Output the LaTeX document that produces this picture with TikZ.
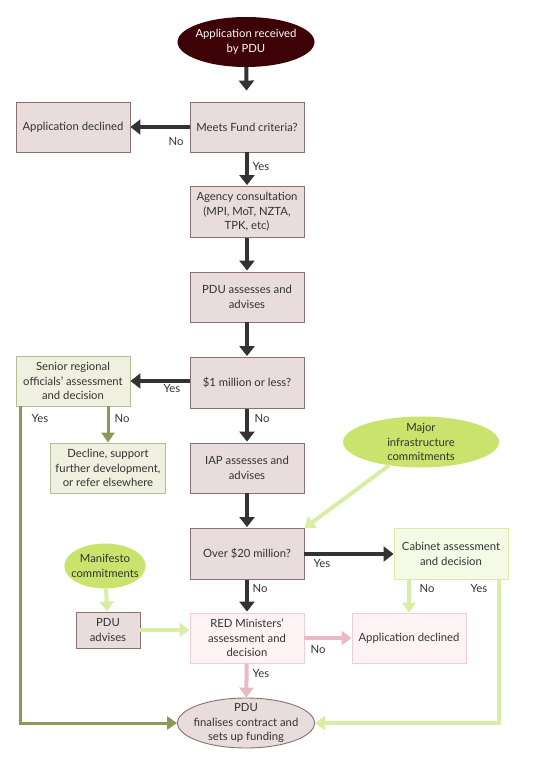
\documentclass[tikz,border=0pt]{standalone}
\usepackage{fontspec}
\setmainfont{Lato}
\usetikzlibrary{arrows.meta,shapes.geometric}
\definecolor{boxfill}{HTML}{E8DCDC}
\definecolor{boxline}{HTML}{8A7070}
\definecolor{startfill}{HTML}{3D0205}
\definecolor{olivefill}{HTML}{EFF0E0}
\definecolor{oliveline}{HTML}{B5BC9A}
\definecolor{olive}{HTML}{899A58}
\definecolor{limefill}{HTML}{C9E36C}
\definecolor{paleline}{HTML}{DAEDA6}
\definecolor{palefill}{HTML}{F5FAE6}
\definecolor{pinkfill}{HTML}{FDF2F4}
\definecolor{pinkline}{HTML}{F1CDD5}
\definecolor{pink}{HTML}{EBB9C4}
\definecolor{txt}{HTML}{333333}

\tikzset{
  base/.style={draw, minimum width=114pt, minimum height=50pt, align=center,
    inner sep=1pt, text=txt, font=\fontsize{11.3}{14.5}\selectfont},
  mainbox/.style={base, fill=boxfill, draw=boxline, line width=0.9pt},
  olivebox/.style={base, fill=olivefill, draw=oliveline, line width=0.9pt},
  palebox/.style={base, fill=palefill, draw=paleline, line width=0.9pt},
  pinkbox/.style={base, fill=pinkfill, draw=pinkline, line width=0.9pt},
  blob/.style={ellipse, inner sep=-5pt, align=center, text=txt,
    font=\fontsize{11.3}{14.5}\selectfont},
  lbl/.style={text=txt, font=\fontsize{11.3}{12}\selectfont, inner sep=0pt},
  darkarrow/.style={draw=txt, line width=4pt, -{Triangle[width=15pt,length=10pt]}},
  olivearrow/.style={draw=olive, line width=3pt, -{Triangle[width=13pt,length=10pt]}},
  palearrow/.style={draw=paleline, line width=4pt, -{Triangle[width=14pt,length=10pt]}},
  pinkarrow/.style={draw=pink, line width=4pt, -{Triangle[width=14pt,length=10pt]}},
}

\begin{document}
\begin{tikzpicture}[x=1pt,y=-1pt]
\useasboundingbox (0,0) rectangle (535,768);

% main column
\node[blob, fill=startfill, text=white, minimum width=137pt, minimum height=50pt] (start) at (246,42) {Application received\\by PDU};
\node[mainbox] (meets) at (247,127) {Meets Fund criteria?};
\node[mainbox] (declA) at (73,127) {Application declined};
\node[mainbox, minimum height=51pt] (agency) at (247,212) {Agency consultation\\(MPI, MoT, NZTA,\\TPK, etc)};
\node[mainbox] (pduassess) at (247,297) {PDU assesses and\\advises};
\node[mainbox, minimum height=51pt] (million) at (247,383) {\$1 million or less?};
\node[olivebox] (senior) at (73,381) {Senior regional\\officials’ assessment\\and decision};
\node[mainbox] (iap) at (247,468) {IAP assesses and\\advises};
\node[olivebox, minimum width=115pt] (decline) at (108,468) {Decline, support\\further development,\\or refer elsewhere};
\node[blob, fill=limefill, minimum width=156pt, minimum height=51pt] (major) at (421,442) {Major\\infrastructure\\commitments};
\node[mainbox, minimum height=51pt] (over) at (247,554) {Over \$20 million?};
\node[palebox, minimum height=51pt] (cabinet) at (451,554) {Cabinet assessment\\and decision};
\node[blob, fill=limefill, minimum width=81pt, minimum height=45pt] (manifesto) at (105,566) {Manifesto\\commitments};
\node[mainbox, minimum width=64pt, minimum height=36pt] (advises) at (108,630) {PDU\\advises};
\node[pinkbox] (red) at (247,638) {RED Ministers’\\assessment and\\decision};
\node[pinkbox] (declB) at (409,638) {Application declined};
\node[blob, fill=boxfill, draw=boxline, line width=0.9pt, minimum width=137pt, minimum height=50pt] (final) at (246,723) {PDU\\finalises contract and\\sets up funding};

% connectors
\draw[darkarrow, shorten >=11pt] (start) -- (meets);
\draw[darkarrow] (meets.west) -- (declA.east);
\draw[darkarrow, shorten >=1pt] (meets) -- (agency);
\draw[darkarrow, shorten >=1pt] (agency) -- (pduassess);
\draw[darkarrow, shorten >=1pt] (pduassess) -- (million);
\draw[darkarrow] (million.west |- senior.east) -- (senior.east);
\draw[darkarrow, shorten >=1pt] (million) -- (iap);
\draw[darkarrow, shorten >=1pt] (iap) -- (over);
\draw[darkarrow] (over.east) -- (cabinet.west);
\draw[darkarrow, shorten >=1pt] (over) -- (red);
\draw[olivearrow] (decline.north |- senior.south) -- (decline.north);
\coordinate (seniorfoot) at ([xshift=5pt]senior.south west);
\draw[olivearrow] (seniorfoot) |- (final.west);
\draw[palearrow] (major) -- (over.north east);
\draw[palearrow] (manifesto) -- (advises);
\draw[palearrow] (advises.east) -- (advises.east -| red.west);
\draw[palearrow] (declB.north |- cabinet.south) -- (declB.north);
\coordinate (cabinetfoot) at ([xshift=-9pt]cabinet.south east);
\draw[palearrow] (cabinetfoot) |- (final.east);
\draw[pinkarrow] (red.east) -- (declB.west);
\draw[pinkarrow] (red) -- (final);

% labels
\node[lbl] (l1) at (176,141) {No};
\node[lbl] (l2) at (261,166) {Yes};
\node[lbl] (l3) at (172,388) {Yes};
\node[lbl] (l4) at (262,418) {No};
\node[lbl] (l5) at (122,418) {No};
\node[lbl] (l6) at (40,418) {Yes};
\node[lbl] (l7) at (322,563) {Yes};
\node[lbl] (l8) at (260,588) {No};
\node[lbl] (l9) at (427,588) {No};
\node[lbl] (l10) at (479,588) {Yes};
\node[lbl] (l11) at (318,649) {No};
\node[lbl] (l12) at (261,673) {Yes};
\end{tikzpicture}
\end{document}
